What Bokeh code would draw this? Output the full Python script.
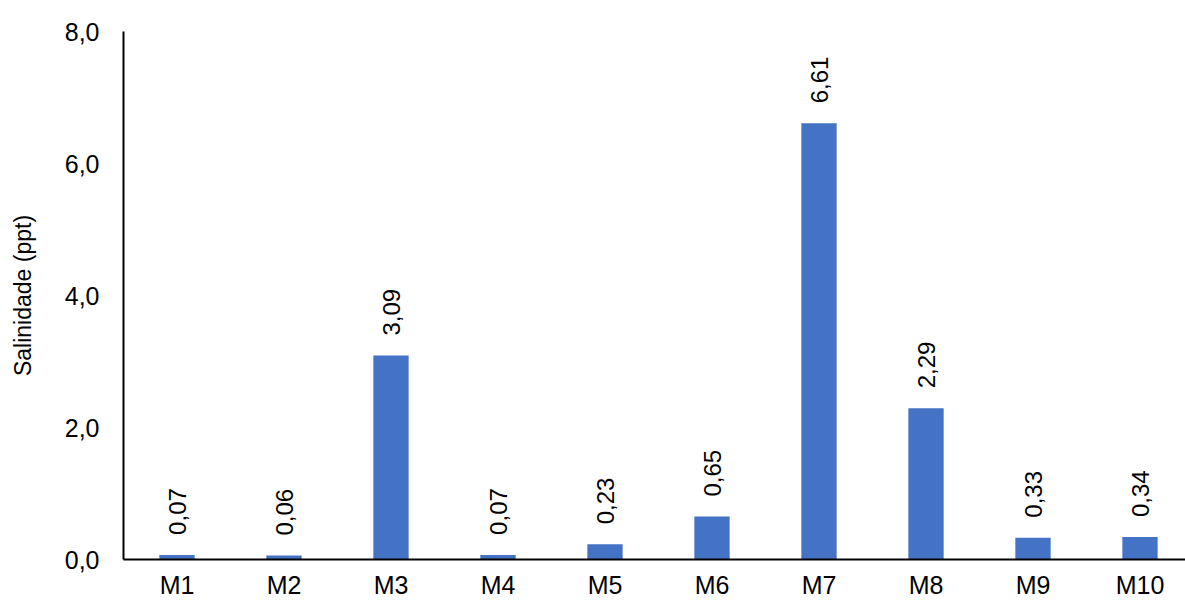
from bokeh.plotting import figure
from bokeh.models import ColumnDataSource, CustomJSTickFormatter, FixedTicker, Range1d
from bokeh.embed import file_html
from bokeh.resources import INLINE
from bokeh.core.properties import value
import math

categories = ["M1", "M2", "M3", "M4", "M5", "M6", "M7", "M8", "M9", "M10"]
salinity = [0.07, 0.06, 3.09, 0.07, 0.23, 0.65, 6.61, 2.29, 0.33, 0.34]
y_ticks = [0, 2, 4, 6, 8]

labels = [f"{v:.2f}".replace(".", ",") for v in salinity]
xpos = [i + 0.5 for i in range(len(categories))]
src = ColumnDataSource(dict(x=xpos, cat=categories, val=salinity, lab=labels))

FONT = "Liberation Sans"

W, H = 1185, 601
left, top, bottom = 123, 31, 42
cat_px = 107
x_end = (W - left) / cat_px

p = figure(x_range=Range1d(0, x_end), y_range=Range1d(0, 8), width=W, height=H,
           output_backend="svg", toolbar_location=None,
           min_border_left=left, min_border_right=0, min_border_top=top,
           min_border_bottom=bottom)
p.outline_line_color = None
p.background_fill_color = "white"
p.border_fill_color = "white"

p.vbar(x="x", top="val", width=0.33, source=src, color="#4472C4", line_color=None)

p.text(x="x", y="val", text="lab", source=src, angle=math.pi / 2,
       text_align="left", text_baseline="middle", y_offset=-20,
       text_font=value(FONT), text_font_size="24px", text_color="#000000")

p.xgrid.grid_line_color = None
p.ygrid.grid_line_color = None

p.xaxis.ticker = FixedTicker(ticks=xpos)
p.xaxis.major_label_overrides = {x: c for x, c in zip(xpos, categories)}

p.yaxis.ticker = FixedTicker(ticks=y_ticks)
p.yaxis.formatter = CustomJSTickFormatter(code="return tick.toFixed(1).replace('.', ',');")
p.yaxis.axis_label = "Salinidade (ppt)"
p.yaxis.axis_label_text_font = FONT
p.yaxis.axis_label_text_font_style = "normal"
p.yaxis.axis_label_text_font_size = "23px"
p.yaxis.axis_label_text_color = "#000000"
p.yaxis.axis_label_standoff = 26
p.yaxis.major_label_standoff = 24

for ax in (p.xaxis, p.yaxis):
    ax.major_tick_line_color = None
    ax.minor_tick_line_color = None
    ax.major_tick_out = 0
    ax.major_tick_in = 0
    ax.axis_line_color = "#000000"
    ax.axis_line_width = 2
    ax.major_label_text_font = FONT
    ax.major_label_text_font_size = "25px"
    ax.major_label_text_color = "#000000"

p.xaxis.major_label_standoff = 11

open("out.html", "w").write(file_html(p, INLINE))
